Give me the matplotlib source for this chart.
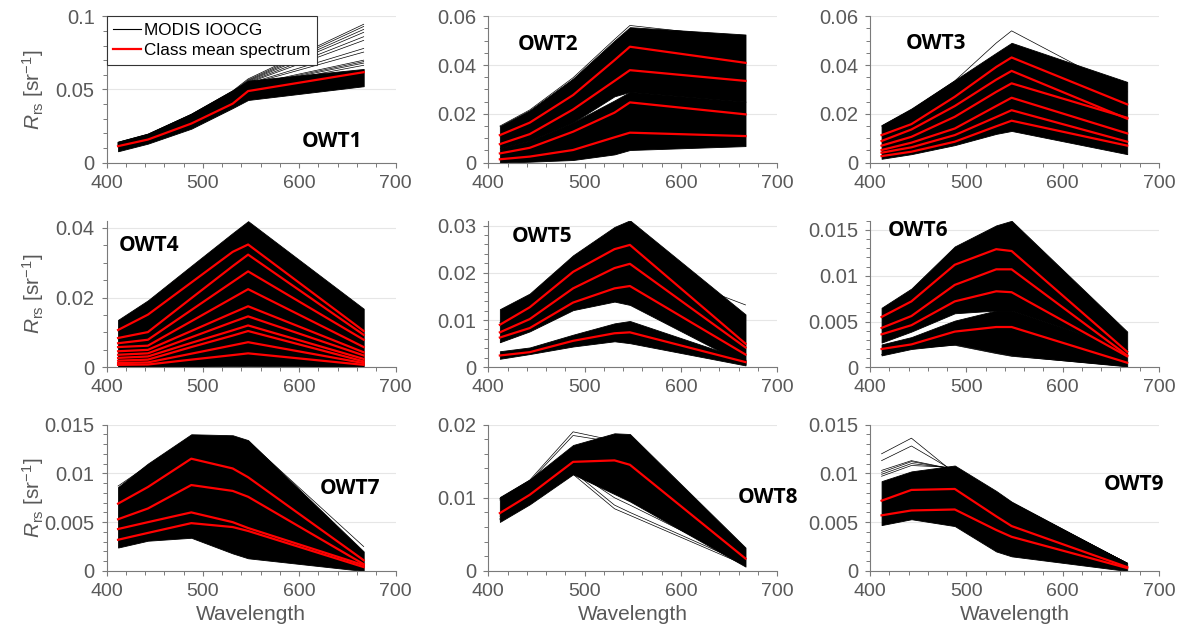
import matplotlib
matplotlib.use("Agg")
import matplotlib.pyplot as plt
from matplotlib.ticker import MultipleLocator, FormatStrFormatter
from matplotlib.lines import Line2D

plt.rcParams['font.family'] = ['Liberation Sans', 'DejaVu Sans']
plt.rcParams['mathtext.fontset'] = 'custom'
plt.rcParams['mathtext.rm'] = 'Liberation Sans'
plt.rcParams['mathtext.it'] = 'Liberation Sans:italic'

# ---------------- data ----------------
wavelengths = [412, 443, 488, 531, 547, 667]
class_names = ["OWT1", "OWT2", "OWT3", "OWT4", "OWT5", "OWT6", "OWT7", "OWT8", "OWT9"]
legend_labels = ["MODIS IOOCG", "Class mean spectrum"]
x_label = "Wavelength"
y_label = r"$\mathit{R}_{\mathrm{rs}}$ [sr$^{\mathrm{-1}}$]"

# black spectra envelopes: (lower, upper) per band
owt1_bands = [([0.0078, 0.0130, 0.0232, 0.0373, 0.0428, 0.0522],
               [0.0143, 0.0198, 0.0335, 0.0495, 0.0560, 0.0640])]
owt1_lines = [
    [0.0140, 0.0195, 0.0330, 0.0490, 0.0572, 0.0945],
    [0.0138, 0.0193, 0.0328, 0.0485, 0.0565, 0.0930],
    [0.0136, 0.0190, 0.0325, 0.0480, 0.0560, 0.0910],
    [0.0134, 0.0188, 0.0322, 0.0475, 0.0555, 0.0890],
    [0.0132, 0.0186, 0.0318, 0.0470, 0.0550, 0.0860],
    [0.0130, 0.0184, 0.0315, 0.0465, 0.0545, 0.0835],
    [0.0128, 0.0182, 0.0312, 0.0462, 0.0540, 0.0780],
    [0.0126, 0.0180, 0.0310, 0.0460, 0.0535, 0.0755],
    [0.0124, 0.0178, 0.0305, 0.0455, 0.0530, 0.0700],
    [0.0122, 0.0176, 0.0300, 0.0450, 0.0525, 0.0690],
    [0.0120, 0.0174, 0.0298, 0.0445, 0.0520, 0.0680],
    [0.0118, 0.0172, 0.0295, 0.0440, 0.0515, 0.0665],
]
owt1_mean = [[0.0113, 0.0158, 0.0267, 0.0403, 0.0489, 0.0618]]

owt2_bands = [([0.0000, 0.0004, 0.0011, 0.0034, 0.0052, 0.0068],
               [0.0060, 0.0090, 0.0165, 0.0255, 0.0290, 0.0250]),
              ([0.0060, 0.0090, 0.0165, 0.0272, 0.0290, 0.0250],
               [0.0150, 0.0215, 0.0345, 0.0500, 0.0555, 0.0525])]
owt2_lines = [[0.0150, 0.0216, 0.0348, 0.0505, 0.0562, 0.0510]]
owt2_mean = [
    [0.0113, 0.0164, 0.0277, 0.0420, 0.0475, 0.0409],
    [0.0076, 0.0117, 0.0218, 0.0335, 0.0379, 0.0335],
    [0.0038, 0.0061, 0.0127, 0.0205, 0.0247, 0.0198],
    [0.0014, 0.0025, 0.0052, 0.0104, 0.0123, 0.0109],
]

owt3_bands = [([0.0016, 0.0035, 0.0072, 0.0118, 0.0130, 0.0035],
               [0.0154, 0.0222, 0.0338, 0.0450, 0.0491, 0.0331])]
owt3_lines = [[0.0150, 0.0216, 0.0335, 0.0490, 0.0540, 0.0290]]
owt3_mean = [
    [0.0113, 0.0158, 0.0270, 0.0392, 0.0431, 0.0239],
    [0.0089, 0.0136, 0.0232, 0.0340, 0.0376, 0.0180],
    [0.0070, 0.0106, 0.0188, 0.0290, 0.0325, 0.0184],
    [0.0052, 0.0082, 0.0140, 0.0232, 0.0266, 0.0120],
    [0.0041, 0.0063, 0.0113, 0.0187, 0.0215, 0.0086],
    [0.0027, 0.0045, 0.0086, 0.0149, 0.0172, 0.0070],
]

owt4_bands = [([0.0001, 0.0001, 0.0002, 0.0003, 0.0004, 0.0001],
               [0.0136, 0.0192, 0.0291, 0.0385, 0.0419, 0.0168])]
owt4_lines = []
owt4_mean = [
    [0.0107, 0.0151, 0.0243, 0.0331, 0.0352, 0.0104],
    [0.0084, 0.0101, 0.0198, 0.0290, 0.0323, 0.0093],
    [0.0069, 0.0079, 0.0164, 0.0245, 0.0275, 0.0079],
    [0.0058, 0.0062, 0.0132, 0.0199, 0.0224, 0.0058],
    [0.0046, 0.0050, 0.0104, 0.0156, 0.0175, 0.0043],
    [0.0036, 0.0040, 0.0086, 0.0130, 0.0146, 0.0034],
    [0.0027, 0.0031, 0.0070, 0.0106, 0.0120, 0.0024],
    [0.0019, 0.0022, 0.0058, 0.0091, 0.0104, 0.0017],
    [0.0012, 0.0014, 0.0039, 0.0063, 0.0072, 0.0012],
    [0.0007, 0.0008, 0.0022, 0.0035, 0.0040, 0.0007],
]

owt5_bands = [([0.0053, 0.0076, 0.0121, 0.0139, 0.0132, 0.0006],
               [0.0123, 0.0156, 0.0237, 0.0297, 0.0311, 0.0112]),
              ([0.0018, 0.0028, 0.0044, 0.0055, 0.0051, 0.0004],
               [0.0034, 0.0042, 0.0069, 0.0093, 0.0098, 0.0016])]
owt5_lines = [[0.0095, 0.0125, 0.0185, 0.0215, 0.0225, 0.0132]]
owt5_mean = [
    [0.0090, 0.0127, 0.0202, 0.0250, 0.0259, 0.0050],
    [0.0074, 0.0102, 0.0167, 0.0210, 0.0219, 0.0042],
    [0.0063, 0.0083, 0.0137, 0.0167, 0.0172, 0.0027],
    [0.0025, 0.0032, 0.0056, 0.0072, 0.0074, 0.0011],
]

owt6_bands = [([0.0013, 0.0020, 0.0025, 0.0016, 0.0013, 0.0001],
               [0.0025, 0.0033, 0.0051, 0.0062, 0.0062, 0.0020]),
              ([0.0027, 0.0039, 0.0059, 0.0062, 0.0062, 0.0020],
               [0.0065, 0.0086, 0.0132, 0.0155, 0.0160, 0.0039])]
owt6_lines = [[0.0014, 0.0021, 0.0024, 0.0015, 0.0012, 0.0001]]
owt6_mean = [
    [0.0055, 0.0072, 0.0112, 0.0129, 0.0127, 0.0017],
    [0.0043, 0.0056, 0.0090, 0.0107, 0.0107, 0.0013],
    [0.0036, 0.0046, 0.0072, 0.0083, 0.0082, 0.0012],
    [0.0020, 0.0025, 0.0039, 0.0044, 0.0044, 0.0005],
]

owt7_bands = [([0.0024, 0.0031, 0.0034, 0.0018, 0.0013, 0.0000],
               [0.0086, 0.0110, 0.0140, 0.0139, 0.0134, 0.0020])]
owt7_lines = [[0.0087, 0.0108, 0.0138, 0.0137, 0.0133, 0.0025]]
owt7_mean = [
    [0.0069, 0.0086, 0.0115, 0.0105, 0.0096, 0.0011],
    [0.0053, 0.0064, 0.0088, 0.0082, 0.0076, 0.0007],
    [0.0043, 0.0050, 0.0060, 0.0050, 0.0044, 0.0006],
    [0.0032, 0.0039, 0.0049, 0.0045, 0.0041, 0.0004],
]

owt8_bands = [([0.0067, 0.0091, 0.0132, 0.0105, 0.0095, 0.0006],
               [0.0101, 0.0125, 0.0172, 0.0188, 0.0187, 0.0032])]
owt8_lines = [
    [0.0099, 0.0124, 0.0190, 0.0178, 0.0172, 0.0028],
    [0.0097, 0.0122, 0.0185, 0.0176, 0.0170, 0.0026],
    [0.0070, 0.0092, 0.0132, 0.0085, 0.0076, 0.0008],
    [0.0072, 0.0095, 0.0136, 0.0090, 0.0080, 0.0010],
    [0.0075, 0.0098, 0.0138, 0.0100, 0.0090, 0.0012],
]
owt8_mean = [[0.0079, 0.0104, 0.0149, 0.0151, 0.0145, 0.0017]]

owt9_bands = [([0.0047, 0.0053, 0.0046, 0.0020, 0.0015, 0.0000],
               [0.0092, 0.0102, 0.0108, 0.0082, 0.0071, 0.0008])]
owt9_lines = [
    [0.0120, 0.0136, 0.0100, 0.0078, 0.0068, 0.0008],
    [0.0113, 0.0128, 0.0102, 0.0078, 0.0068, 0.0008],
    [0.0103, 0.0113, 0.0104, 0.0079, 0.0069, 0.0008],
    [0.0101, 0.0112, 0.0104, 0.0079, 0.0069, 0.0008],
    [0.0099, 0.0110, 0.0105, 0.0080, 0.0070, 0.0008],
    [0.0097, 0.0108, 0.0106, 0.0080, 0.0070, 0.0008],
]
owt9_mean = [
    [0.0072, 0.0083, 0.0084, 0.0056, 0.0046, 0.0004],
    [0.0057, 0.0062, 0.0063, 0.0042, 0.0035, 0.0003],
]

y_limits = [0.1, 0.06, 0.06, 0.042, 0.031, 0.016, 0.015, 0.02, 0.015]
y_major = [0.05, 0.02, 0.02, 0.02, 0.01, 0.005, 0.005, 0.01, 0.005]
y_minor = [0.01, 0.005, 0.005, 0.005, 0.002, 0.001, 0.001, 0.002, 0.001]
label_pos = [(603, 0.0145), (431, 0.0485), (437, 0.0490), (413, 0.0348), (424, 0.0277),
             (418, 0.0149), (621, 0.00846), (659, 0.00998), (643, 0.00885)]

all_bands = [owt1_bands, owt2_bands, owt3_bands, owt4_bands, owt5_bands,
             owt6_bands, owt7_bands, owt8_bands, owt9_bands]
all_lines = [owt1_lines, owt2_lines, owt3_lines, owt4_lines, owt5_lines,
             owt6_lines, owt7_lines, owt8_lines, owt9_lines]
all_means = [owt1_mean, owt2_mean, owt3_mean, owt4_mean, owt5_mean,
             owt6_mean, owt7_mean, owt8_mean, owt9_mean]

# ---------------- figure ----------------
W, H = 1184, 639
fig = plt.figure(figsize=(W / 100, H / 100), dpi=100)
col_left = [106.5, 488.3, 870.0]
row_bottom = [162.7, 367.3, 571.0]
ax_w, ax_h = 289.0, 146.5

spine_c = '#7a7a7a'
text_c = '#595959'

for i in range(9):
    r, c = divmod(i, 3)
    ax = fig.add_axes([col_left[c] / W, 1 - row_bottom[r] / H, ax_w / W, ax_h / H])
    ax.yaxis.grid(True, which='major', color='#e6e6e6', lw=0.8, zorder=0)
    ax.set_axisbelow(True)
    for lo, hi in all_bands[i]:
        ax.fill_between(wavelengths, lo, hi, facecolor='black', edgecolor='black',
                        lw=0.6, zorder=2)
    for s in all_lines[i]:
        ax.plot(wavelengths, s, color='black', lw=0.5, zorder=3)
    for s in all_means[i]:
        ax.plot(wavelengths, s, color='#ff0000', lw=1.6, zorder=4)
    ax.set_xlim(400, 700)
    ax.set_ylim(0, y_limits[i])
    ax.xaxis.set_major_locator(MultipleLocator(100))
    ax.xaxis.set_minor_locator(MultipleLocator(20))
    ax.yaxis.set_major_locator(MultipleLocator(y_major[i]))
    ax.yaxis.set_minor_locator(MultipleLocator(y_minor[i]))
    ax.yaxis.set_major_formatter(FormatStrFormatter('%g'))
    for sp in ['top', 'right']:
        ax.spines[sp].set_visible(False)
    for sp in ['left', 'bottom']:
        ax.spines[sp].set_color(spine_c)
        ax.spines[sp].set_linewidth(0.8)
    ax.tick_params(which='major', direction='out', length=3.5, width=0.8,
                   color=spine_c, labelcolor=text_c, labelsize=14, pad=5)
    ax.tick_params(axis='y', which='major', labelsize=14.5)
    ax.tick_params(which='minor', direction='out', length=3.0, width=0.7, color=spine_c)
    ax.text(label_pos[i][0], label_pos[i][1], class_names[i], ha='left', va='center',
            fontsize=15, fontweight='bold', family=['Open Sans', 'DejaVu Sans'],
            color='black', zorder=6)
    if c == 0:
        ax.set_ylabel(y_label, fontsize=15, color=text_c)
        ax.yaxis.set_label_coords(-0.21, 0.5)
    if r == 2:
        ax.set_xlabel(x_label, fontsize=15, color=text_c)
        ax.xaxis.set_label_coords(0.5, -0.235)
    if i == 0:
        handles = [Line2D([], [], color='black', lw=0.8),
                   Line2D([], [], color='#ff0000', lw=1.6)]
        leg = ax.legend(handles, legend_labels, loc='upper left', bbox_to_anchor=(0, 1),
                        borderaxespad=0, fontsize=12.3, handlelength=1.6,
                        handletextpad=0.2, borderpad=0.4, labelspacing=0.3,
                        fancybox=False, framealpha=1)
        leg.get_frame().set_edgecolor('#333333')
        leg.get_frame().set_linewidth(0.8)
        leg.set_zorder(10)

fig.savefig('out.png', dpi=100)
